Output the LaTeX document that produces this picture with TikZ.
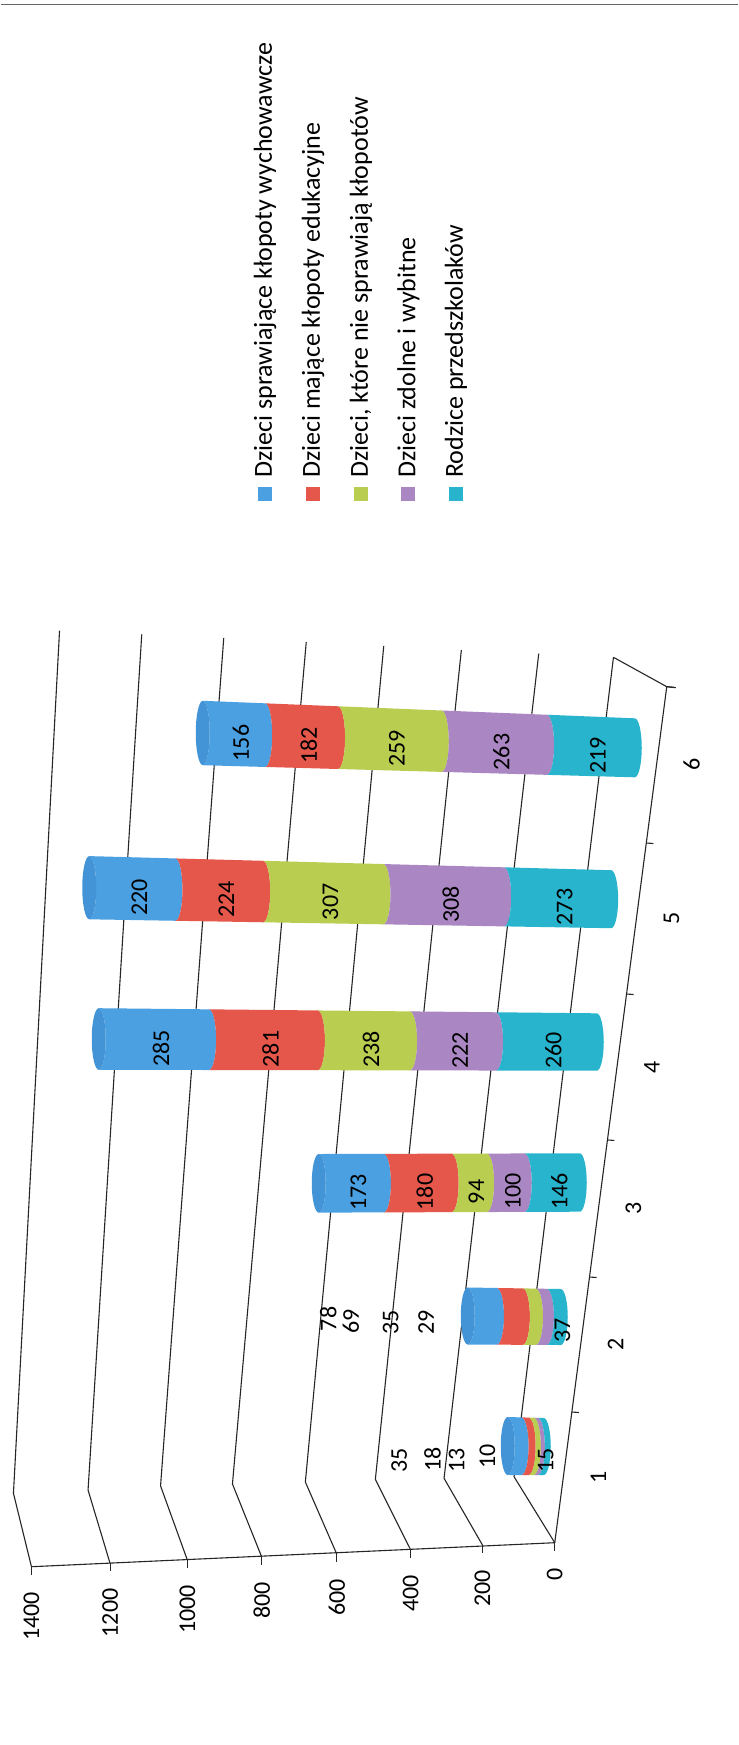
\documentclass[tikz,border=0pt]{standalone}
\usepackage{fontspec}
\setmainfont{Carlito}
\usetikzlibrary{calc}
\definecolor{serA}{HTML}{4BA0E1}
\definecolor{capA}{HTML}{4394D6}
\definecolor{serB}{HTML}{E6574B}
\definecolor{serC}{HTML}{B9CD50}
\definecolor{serD}{HTML}{AA87C3}
\definecolor{serE}{HTML}{28B4CD}

\begin{document}
\begin{tikzpicture}[x=1pt,y=-1pt,
        grid/.style={black!85, line width=1.1pt},
        num/.style={rotate=90, inner sep=0pt, font=\fontsize{24}{28}\selectfont},
        legtxt/.style={rotate=90, inner sep=0pt, anchor=base west, font=\fontsize{26}{30}\selectfont}]

        \fill[white] (0,0) rectangle (737,1745);
        \draw[black!60, line width=1.5pt] (0,4.6) -- (737,4.6);

        \foreach \v/\tx/\ty/\cx/\cy/\bx/\by in {
            1400/30.7/1566.7/12.7/1493.3/58.8/630.6,
            1200/109.3/1563.3/87.3/1490/141/634.4,
            1000/186.6/1560/159.8/1485.9/223/638,
            800/261/1557/231.7/1484/305.5/642,
            600/336/1554/304.6/1482/383/646,
            400/410/1550/374.6/1479.4/460.6/650,
            200/481.7/1545/443.3/1478.3/538/653.6,
            0/554/1542.7/513.3/1476.7/612.7/657.3}{
            \draw[grid] (\tx,\ty) coordinate (t\v) -- (\cx,\cy) -- (\bx,\by) coordinate (g\v);
            \draw[grid] (t\v) -- ++(0,8);
            \node[num, anchor=east] (vl\v) at (\tx,\ty+25) {\v};
        }

        \draw[grid] (t1400) -- (t0);
        \draw[grid] (t0) -- (666,686.7) coordinate (cend) -- ++(9,1);
        \draw[grid] (g0) -- (cend);

        \foreach \n/\p/\q in {1/0.0763/0.1527, 2/0.2316/0.3104, 3/0.3904/0.4705,
            4/0.5557/0.6410, 5/0.7292/0.8174, 6/0.9087/1}{
            \draw[grid] ($(t0)!\q!(cend)$) -- ++(7,0.5);
            \node[num] (cl\n) at ($(t0)!\p!(cend)+(35,0)$) {\n};
        }

        \foreach \lx/\ly/\lr/\qx/\qy/\qr/\va/\vb/\vc/\vd/\ve/\inl in {
            507/1446/29/543/1446.5/28.5/35/18/13/10/15/0,
            467/1316/28.5/560/1317/28/78/69/35/29/37/0,
            318/1183.3/29.3/579/1182.5/29.2/173/180/94/100/146/1,
            98/1039/30.8/596/1042/28.7/285/281/238/222/260/1,
            88.5/887.7/31.6/610.4/899.2/29/220/224/307/308/273/1,
            202/733/32.2/634/747.8/29.5/156/182/259/263/219/1}{
            \pgfmathsetmacro\tot{\va+\vb+\vc+\vd+\ve}
            \pgfmathsetmacro\ta{\va/\tot}
            \pgfmathsetmacro\tb{(\va+\vb)/\tot}
            \pgfmathsetmacro\tc{(\va+\vb+\vc)/\tot}
            \pgfmathsetmacro\td{(\va+\vb+\vc+\vd)/\tot}
            \foreach \s/\e/\col in {0/\ta/serA, \ta/\tb/serB, \tb/\tc/serC, \tc/\td/serD, \td/1/serE}{
                \pgfmathsetmacro\xs{\lx+\s*(\qx-\lx)}
                \pgfmathsetmacro\ys{\ly+\s*(\qy-\ly)}
                \pgfmathsetmacro\rs{\lr+\s*(\qr-\lr)}
                \pgfmathsetmacro\xe{\lx+\e*(\qx-\lx)}
                \pgfmathsetmacro\ye{\ly+\e*(\qy-\ly)}
                \pgfmathsetmacro\rE{\lr+\e*(\qr-\lr)}
                \fill[\col] (\xs,\ys-\rs) -- (\xe,\ye-\rE)
                    arc[start angle=-90, end angle=90, x radius=7, y radius=\rE]
                    -- (\xs,\ys+\rs)
                    arc[start angle=90, end angle=-90, x radius=7, y radius=\rs] -- cycle;
            }
            \fill[capA] (\lx,\ly) ellipse[x radius=7, y radius=\lr];
            \ifnum\inl=1
                \foreach \s/\e/\v in {0/\ta/\va, \ta/\tb/\vb, \tb/\tc/\vc, \tc/\td/\vd, \td/1/\ve}{
                    \pgfmathsetmacro\xm{\lx+(\s+\e)/2*(\qx-\lx)+7}
                    \pgfmathsetmacro\ym{\ly+(\s+\e)/2*(\qy-\ly)+9}
                    \node[num] at (\xm,\ym) {\v};
                }
            \fi
        }

        \node[num] (oa35) at (398.3,1460) {35};
        \node[num] (oa18) at (431.7,1459.3) {18};
        \node[num] (oa13) at (456,1460) {13};
        \node[num] (oa10) at (486.7,1456.7) {10};
        \node[num] (oa15) at (545,1460) {15};
        \node[num] (ob78) at (327.6,1318.9) {78};
        \node[num] (ob69) at (350,1321.5) {69};
        \node[num] (ob35) at (390,1322.7) {35};
        \node[num] (ob29) at (425.4,1322.7) {29};
        \node[num] (ob37) at (561.7,1330) {37};

        \fill[serA] (257,487) rectangle (271,501);
        \fill[serB] (305,487) rectangle (319,501);
        \fill[serC] (353,487) rectangle (367,501);
        \fill[serD] (400.5,487) rectangle (414.5,501);
        \fill[serE] (448,487) rectangle (462,501);
        \node[legtxt] (leg1) at (271,478) {Dzieci sprawiające kłopoty wychowawcze};
        \node[legtxt] (leg2) at (319,478) {Dzieci mające kłopoty edukacyjne};
        \node[legtxt] (leg3) at (367,478) {Dzieci, które nie sprawiają kłopotów};
        \node[legtxt] (leg4) at (414.5,478) {Dzieci zdolne i wybitne};
        \node[legtxt] (leg5) at (462,478) {Rodzice przedszkolaków};
    \end{tikzpicture}
\end{document}
